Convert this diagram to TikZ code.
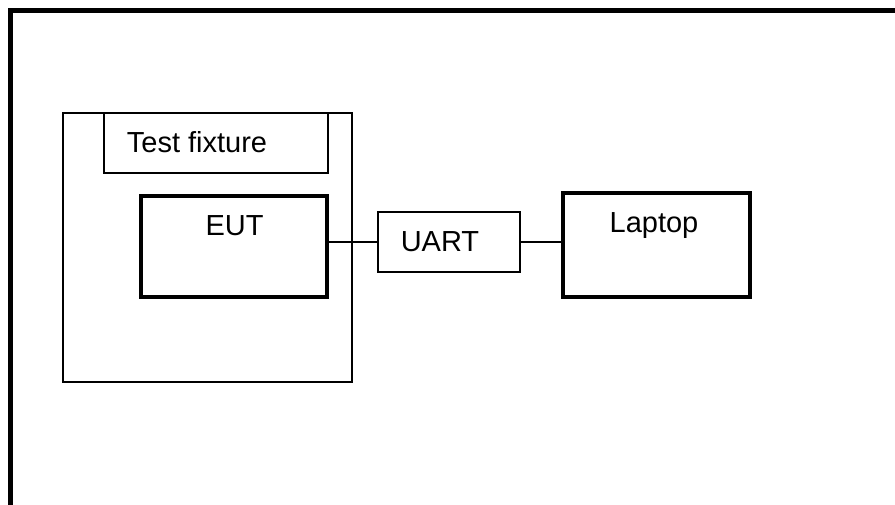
\documentclass[tikz,border=0pt]{standalone}
\usepackage{fontspec}
\setmainfont{Liberation Sans}
\begin{document}
\begin{tikzpicture}[x=1pt,y=-1pt,
  thinbox/.style={draw=black,line width=1.2pt,rectangle,inner sep=0pt},
  thickbox/.style={draw=black,line width=4.5pt,rectangle,inner sep=0pt},
  lbl/.style={font=\fontsize{29}{34}\selectfont,anchor=base,inner sep=0pt},
  wire/.style={draw=black,line width=1.2pt}]
\useasboundingbox (0,0) rectangle (895,504);
\begin{scope}
\clip (0,0) rectangle (895,504);
\draw[line width=5pt] (10.5,520) -- (10.5,10.5) -- (910,10.5);
\end{scope}
% fixture
\node[thinbox,minimum width=289pt,minimum height=269pt] (fixture) at (207.5,247.5) {};
\node[thinbox,minimum width=224pt,minimum height=60pt] (fixlabel) at (216,143) {};
\node[lbl] (fixtext) at (197,152) {Test fixture};
% EUT
\node[thickbox,minimum width=186pt,minimum height=101pt] (eut) at (234,246.5) {};
\node[lbl] (euttext) at (234.5,235) {EUT};
% UART
\node[thinbox,minimum width=142pt,minimum height=60pt] (uart) at (449,242) {};
\node[lbl] (uarttext) at (440,251) {UART};
% Laptop
\node[thickbox,minimum width=187pt,minimum height=104pt] (laptop) at (656.5,245) {};
\node[lbl] (laptoptext) at (654,232) {Laptop};
% wires
\draw[wire] (uart.west) -- (uart.west -| eut.east);
\draw[wire] (uart.east) -- (uart.east -| laptop.west);
\end{tikzpicture}
\end{document}
